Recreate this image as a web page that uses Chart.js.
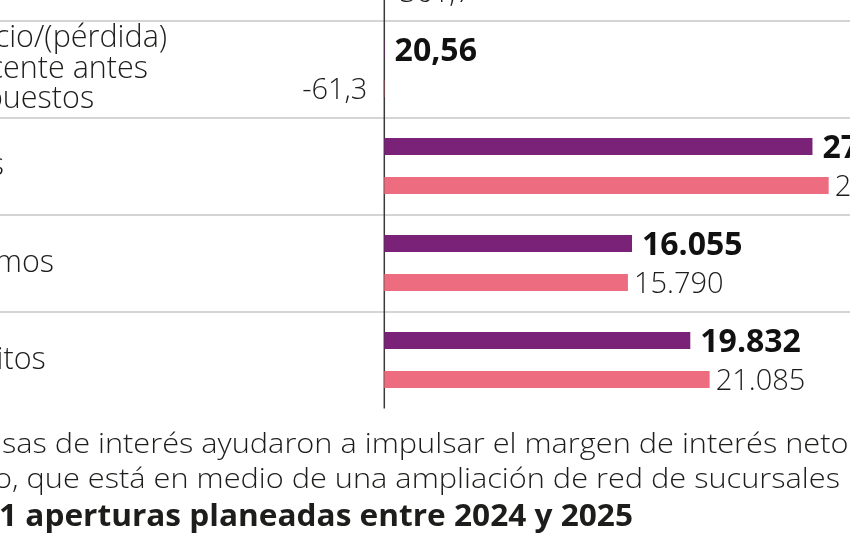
<!DOCTYPE html>
<html lang="es">
<head>
<meta charset="utf-8">
<title>Resultados del banco</title>
<script src="https://cdn.jsdelivr.net/npm/chart.js@4.4.1/dist/chart.umd.min.js"></script>
<style>
  html, body { margin: 0; padding: 0; background: #fff; }
  body { width: 850px; height: 560px; overflow: hidden; position: relative; }
  #grafico { position: absolute; left: -100px; top: -120px; }
  .nota { position: absolute; top: 0; white-space: nowrap; color: #1d1d1b; transform-origin: 0 0; }
</style>
</head>
<body>
<canvas id="grafico" width="1020" height="560"></canvas>
<script>
// datos
const categorias = [
  ["Beneficio/(pérdida)", "estatutario"],
  ["Beneficio/(pérdida)", "subyacente antes", "de impuestos"],
  "Activos",
  "Préstamos",
  "Depósitos"
];
const series = ["2023", "2022"];
const valores2023 = [null, 20.56, 27750, 16055, 19832];
const valores2022 = [-361.7, -61.3, 28800, 15790, 21085];
// etiqueta de la serie rosa a la izquierda del eje
const rosaIzquierda = [false, true, false, false, false];

const nota = [
  "sas de interés ayudaron a impulsar el margen de interés neto",
  "o, que está en medio de una ampliación de red de sucursales",
  "1 aperturas planeadas entre 2024 y 2025"
];

const morado = "#7a2277";
const rosa = "#ee6c7f";
const negro = "#1d1d1b";

function formato(v) {
  const abs = Math.abs(v);
  let texto;
  if (Number.isInteger(abs)) {
    texto = String(abs).replace(/\B(?=(\d{3})+(?!\d))/g, ".");
  } else {
    texto = String(abs).replace(".", ",");
  }
  return (v < 0 ? "-" : "") + texto;
}

// linea vertical en cero
const lineaCero = {
  id: "lineaCero",
  beforeDatasetsDraw(chart) {
    const { ctx, chartArea, scales } = chart;
    const x = scales.x.getPixelForValue(0);
    ctx.save();
    ctx.strokeStyle = "#3a3a3a";
    ctx.lineWidth = 1.5;
    ctx.beginPath();
    ctx.moveTo(x, chartArea.top);
    ctx.lineTo(x, chartArea.bottom);
    ctx.stroke();
    ctx.restore();
  },
};

// valores al final de cada barra
const etiquetas = {
  id: "etiquetas",
  afterDatasetsDraw(chart) {
    const { ctx } = chart;
    chart.data.datasets.forEach((ds, i) => {
      const meta = chart.getDatasetMeta(i);
      const negrita = i === 0;
      meta.data.forEach((bar, j) => {
        const v = ds.data[j];
        if (v === null || v === undefined) return;
        ctx.save();
        ctx.fillStyle = negrita ? "#111" : negro;
        ctx.font = negrita ? "700 32px 'Open Sans'" : "300 29px 'Open Sans'";
        ctx.textBaseline = "alphabetic";
        const y = bar.y + (negrita ? 11.4 : 10.5);
        if (!negrita && rosaIzquierda[j]) {
          ctx.textAlign = "right";
          ctx.fillText(formato(v), Math.min(bar.x, bar.base) - 16, y);
        } else {
          ctx.textAlign = "left";
          ctx.fillText(formato(v), Math.max(bar.x, bar.base) + (negrita ? 10 : 6), y);
        }
        ctx.restore();
      });
    });
  },
};

new Chart(document.getElementById("grafico"), {
  type: "bar",
  data: {
    labels: categorias,
    datasets: [
      {
        label: series[0],
        data: valores2023,
        backgroundColor: morado,
        categoryPercentage: 0.804,
        barPercentage: 0.436,
      },
      {
        label: series[1],
        data: valores2022,
        backgroundColor: rosa,
        categoryPercentage: 0.804,
        barPercentage: 0.436,
      },
    ],
  },
  options: {
    indexAxis: "y",
    responsive: false,
    animation: false,
    devicePixelRatio: 1,
    layout: { padding: { left: 8, right: 11.1, top: 43.6, bottom: 31.4 } },
    plugins: {
      legend: { display: false },
      tooltip: { enabled: false },
    },
    scales: {
      x: { display: false, min: -400, max: 34000 },
      y: {
        afterFit(scale) {
          scale.width = 470.13;
        },
        border: { display: false },
        grid: {
          offset: true,
          color: (c) => (c.type === "tick" ? "#d5d5d5" : "rgba(0,0,0,0)"),
          lineWidth: 2,
          tickLength: 500,
        },
        ticks: {
          autoSkip: false,
          crossAlign: "far",
          padding: 0,
          color: negro,
          font: { family: "'Open Sans'", weight: "300", size: 30.5, lineHeight: 1.0 },
        },
      },
    },
  },
  plugins: [lineaCero, etiquetas],
});

// texto de abajo
const notaEstilo = [
  { left: 1.5, base: 452.7, ancho: 846.5, font: "300 27px 'Open Sans'" },
  { left: -6, base: 488.3, ancho: 846, font: "300 27px 'Open Sans'" },
  { left: -1, base: 526, ancho: 634, font: "700 31px 'Open Sans'" },
];
const lineas = nota.map((t, i) => {
  const el = document.createElement("div");
  el.className = "nota";
  el.style.font = notaEstilo[i].font;
  el.style.left = notaEstilo[i].left + "px";
  const texto = document.createElement("span");
  texto.textContent = t;
  const marca = document.createElement("span");
  marca.style.display = "inline-block";
  marca.style.width = "0";
  marca.style.height = "0";
  el.appendChild(texto);
  el.appendChild(marca);
  document.body.appendChild(el);
  return { el, texto, marca, est: notaEstilo[i] };
});
function colocar() {
  lineas.forEach(({ el, texto, marca, est }) => {
    el.style.transform = "none";
    el.style.top = "0px";
    const base = marca.getBoundingClientRect().bottom - el.getBoundingClientRect().top;
    el.style.top = est.base - base + "px";
    const ancho = texto.getBoundingClientRect().width;
    el.style.transform = "scaleX(" + est.ancho / ancho + ")";
  });
}
colocar();
document.fonts.ready.then(colocar);
</script>
</body>
</html>
